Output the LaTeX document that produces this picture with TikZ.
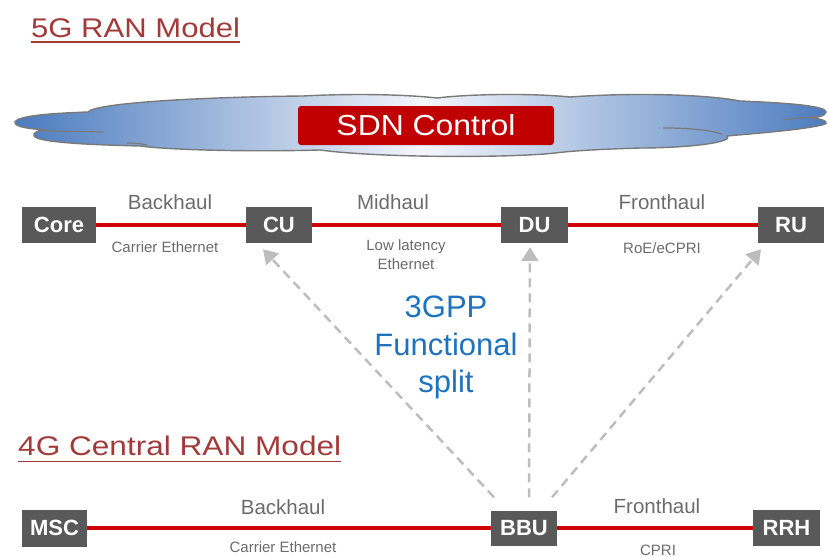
\documentclass[tikz,border=0pt]{standalone}
\usepackage{fontspec}
\usepackage{graphicx}
\setmainfont{Liberation Sans}
\usetikzlibrary{arrows.meta,calc}

\definecolor{titlered}{HTML}{A33A3A}
\definecolor{sdnred}{HTML}{C00000}
\definecolor{linkred}{HTML}{D00000}
\definecolor{boxgray}{HTML}{595959}
\definecolor{labelgray}{HTML}{6B6B6B}
\definecolor{splitgray}{HTML}{BDBDBD}
\definecolor{splitblue}{HTML}{1E73BE}
\definecolor{cloudblue}{HTML}{4A7BBE}
\definecolor{cloudlight}{HTML}{F4F6FB}
\definecolor{cloudedge}{HTML}{7A7A7A}

\tikzset{
  unitbox/.style={fill=boxgray, text=white, inner sep=0pt,
    font=\fontsize{22}{22}\selectfont\bfseries},
  link/.style={draw=linkred, line width=3.2pt},
  haultext/.style={text=labelgray, inner sep=0pt, anchor=base,
    font=\fontsize{20.5}{20.5}\selectfont},
  mediatext/.style={text=labelgray, inner sep=0pt, anchor=base,
    font=\fontsize{15}{15}\selectfont},
  splitarrow/.style={draw=splitgray, line width=2.5pt,
    dash pattern=on 9pt off 6pt,
    -{Triangle[length=14pt,width=17pt,fill=splitgray]}},
  splittext/.style={text=splitblue, inner sep=0pt, anchor=base,
    font=\fontsize{31}{31}\selectfont},
  modeltitle/.style={text=titlered, inner sep=0pt, anchor=base west,
    font=\fontsize{27}{27}\selectfont},
  crease/.style={draw=cloudedge, line width=1.2pt}
}

\begin{document}
\begin{tikzpicture}[x=1pt, y=-1pt]
\useasboundingbox (0,0) rectangle (828,557);

% ---- titles ----
\node[modeltitle] (t5) at (31,37) {\scalebox{1.15}[1]{5G RAN Model}};
\draw[titlered, line width=1.6pt]
  ($(t5.base west)+(0,5)$) -- ($(t5.base east)+(0,5)$);
\node[modeltitle] (t4) at (18,455) {\scalebox{1.17}[1]{4G Central RAN Model}};
\draw[titlered, line width=1.6pt]
  ($(t4.base west)+(0,6.5)$) -- ($(t4.base east)+(0,6.5)$);

% ---- SDN cloud ----
\shade[left color=cloudblue, right color=cloudblue, middle color=cloudlight,
       draw=cloudedge, line width=1.4pt]
  (15,122) .. controls (18,115) and (60,113) .. (88,112)
  .. controls (95,103) and (200,97) .. (303,96)
  .. controls (360,93) and (410,95) .. (437,98)
  .. controls (470,94) and (530,93) .. (570,97)
  .. controls (640,92) and (710,95) .. (740,101)
  .. controls (790,103) and (826,106) .. (826,112)
  .. controls (826,116) and (815,118) .. (810,118)
  .. controls (822,118) and (832,123) .. (822,125)
  .. controls (800,130) and (760,133) .. (727,136)
  .. controls (735,142) and (690,148) .. (640,148)
  .. controls (610,149) and (580,150) .. (555,153)
  .. controls (510,158) and (380,158) .. (320,150)
  .. controls (250,152) and (170,150) .. (140,146)
  .. controls (100,145) and (38,143) .. (34,136)
  .. controls (32,132) and (40,130) .. (48,130)
  .. controls (30,129) and (14,127) .. (15,122) -- cycle;
\draw[crease] (47,131) -- (103,132);
\draw[crease] (127,143) to[bend left=5] (147,145);
\draw[crease] (663,128) .. controls (690,128) and (710,130) .. (722,134);
\draw[crease] (783,120) .. controls (795,118) and (808,117) .. (817,117);

\node[fill=sdnred, text=white, rounded corners=3pt, minimum width=256pt,
      minimum height=39pt, inner sep=0pt, font=\fontsize{29}{29}\selectfont]
  (sdn) at (426,125.5) {\scalebox{1.1}[1]{SDN Control}};

% ---- 5G chain ----
\node[unitbox, minimum width=74pt, minimum height=36pt] (core) at (59,225) {Core};
\node[unitbox, minimum width=66pt, minimum height=36pt] (cu) at (279,225) {CU};
\node[unitbox, minimum width=67pt, minimum height=36pt] (du) at (534.5,225) {DU};
\node[unitbox, minimum width=66pt, minimum height=36pt] (ru) at (791,225) {RU};

\draw[link] (core) -- (cu);
\draw[link] (cu) -- (du);
\draw[link] (du) -- (ru);

\node[haultext] (bh5) at (170,209) {Backhaul};
\node[mediatext] (ce5) at (165,252) {Carrier Ethernet};
\node[haultext] (mh5) at (393,209) {Midhaul};
\node[mediatext] (ll5) at (406,250) {Low latency};
\node[mediatext] (et5) at (406,269) {Ethernet};
\node[haultext] (fh5) at (662,209) {Fronthaul};
\node[mediatext] (cp5) at (662,253) {RoE/eCPRI};

% ---- 4G chain ----
\node[unitbox, minimum width=65pt, minimum height=37pt] (msc) at (54.5,528) {MSC};
\node[unitbox, minimum width=66pt, minimum height=35pt] (bbu) at (524,528) {BBU};
\node[unitbox, minimum width=67pt, minimum height=36pt] (rrh) at (786.5,528) {RRH};

\draw[link] (msc) -- (bbu);
\draw[link] (bbu) -- (rrh);

\node[haultext] (bh4) at (283,514) {Backhaul};
\node[mediatext] (ce4) at (283,552) {Carrier Ethernet};
\node[haultext] (fh4) at (657,513) {Fronthaul};
\node[mediatext] (cp4) at (658,555) {CPRI};

% ---- functional split arrows ----
\draw[splitarrow] ($(bbu.north)+(-30,-13)$) -- ($(cu.south)+(-16,6)$);
\draw[splitarrow] ($(bbu.north)+(5,-13)$) -- ($(du.south)+(-4.5,4)$);
\draw[splitarrow] ($(bbu.north)+(28,-13)$) -- ($(ru.south)+(-30,6)$);

\node[splittext] (sp1) at (446,317) {3GPP};
\node[splittext] (sp2) at (446,355) {Functional};
\node[splittext] (sp3) at (446,392) {split};
\end{tikzpicture}
\end{document}
